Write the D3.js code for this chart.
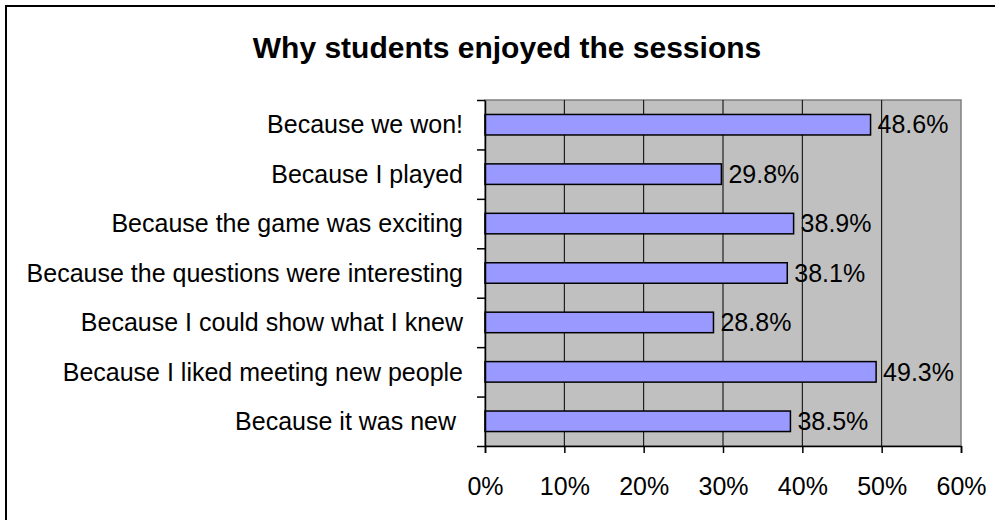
<!DOCTYPE html>
<html>
<head>
<meta charset="utf-8">
<script src="https://cdn.jsdelivr.net/npm/d3@7"></script>
<style>
  body { margin: 0; background: #fff; }
  svg text { font-family: "Liberation Sans", Arial, sans-serif; white-space: pre; }
</style>
</head>
<body>
<div id="chart"></div>
<script>
// data
const reasons = [
  "Because we won!",
  "Because I played",
  "Because the game was exciting",
  "Because the questions were interesting",
  "Because I could show what I knew",
  "Because I liked meeting new people",
  "Because it was new "
];
const shares = [0.486, 0.298, 0.389, 0.381, 0.288, 0.493, 0.385];
const xTicks = [0, 0.1, 0.2, 0.3, 0.4, 0.5, 0.6];
const chartTitle = "Why students enjoyed the sessions";

const width = 995, height = 520;
const plot = {left: 485, right: 961, top: 100, bottom: 446};

const svg = d3.select("#chart").append("svg")
    .attr("width", width)
    .attr("height", height);

// outer frame (runs off the right/bottom edge like the original)
svg.append("rect")
    .attr("x", 6).attr("y", 6)
    .attr("width", 1000).attr("height", 530)
    .attr("fill", "#fff")
    .attr("stroke", "#000")
    .attr("stroke-width", 2);

svg.append("text")
    .attr("x", 507).attr("y", 58)
    .attr("text-anchor", "middle")
    .attr("font-size", 30)
    .attr("font-weight", "bold")
    .text(chartTitle);

const x = d3.scaleLinear()
  .domain([0, 0.6])
  .range([plot.left, plot.right]);

const y = d3.scaleBand()
  .domain(reasons)
  .range([plot.top, plot.bottom])
  .paddingInner(0.585)
  .paddingOuter(0.2925);

// plot background
svg.append("rect")
    .attr("x", plot.left).attr("y", plot.top)
    .attr("width", plot.right - plot.left)
    .attr("height", plot.bottom - plot.top)
    .attr("fill", "#c0c0c0")
    .attr("stroke", "#808080")
    .attr("stroke-width", 1.5);

// vertical gridlines
svg.append("g")
  .selectAll("line")
  .data(xTicks.filter(d => d > 0 && d < 0.6))
  .join("line")
    .attr("x1", d => x(d)).attr("x2", d => x(d))
    .attr("y1", plot.top).attr("y2", plot.bottom)
    .attr("stroke", "#000")
    .attr("stroke-width", 1);

// bars
svg.append("g")
  .selectAll("rect")
  .data(shares)
  .join("rect")
    .attr("x", x(0))
    .attr("y", (d, i) => y(reasons[i]))
    .attr("width", d => x(d) - x(0))
    .attr("height", y.bandwidth())
    .attr("fill", "#9999ff")
    .attr("stroke", "#000")
    .attr("stroke-width", 1.5);

// value labels
svg.append("g")
  .selectAll("text")
  .data(shares)
  .join("text")
    .attr("x", d => x(d) + 7)
    .attr("y", (d, i) => y(reasons[i]) + y.bandwidth() / 2)
    .attr("dy", "0.35em")
    .attr("font-size", 25)
    .text(d => (d * 100).toFixed(1) + "%");

// x axis
const xAxis = svg.append("g")
  .attr("transform", `translate(0,${plot.bottom})`)
  .call(d3.axisBottom(x).tickValues(xTicks).tickFormat(d3.format(".0%")).tickSize(7).tickPadding(24));
xAxis.select(".domain").attr("stroke-width", 1.5);
xAxis.selectAll(".tick line").attr("stroke-width", 1.5);
xAxis.selectAll("text")
  .attr("font-size", 25)
  .attr("font-family", "Liberation Sans, Arial, sans-serif")
  .attr("fill", "#000");

// y axis: ticks sit on the band edges, labels centred in the bands
const yEdges = d3.scaleLinear().domain([0, reasons.length]).range([plot.top, plot.bottom]);
const yAxis = svg.append("g")
  .attr("transform", `translate(${plot.left},0)`)
  .call(d3.axisLeft(yEdges).tickValues(d3.range(reasons.length + 1)).tickFormat("").tickSize(8).tickSizeOuter(0));
yAxis.select(".domain").attr("stroke-width", 1.5);
yAxis.selectAll(".tick line").attr("stroke-width", 1.5);

svg.append("g")
  .selectAll("text")
  .data(reasons)
  .join("text")
    .attr("x", 463)
    .attr("y", d => y(d) + y.bandwidth() / 2)
    .attr("dy", "0.35em")
    .attr("text-anchor", "end")
    .attr("font-size", 25)
    .text(d => d);
</script>
</body>
</html>
